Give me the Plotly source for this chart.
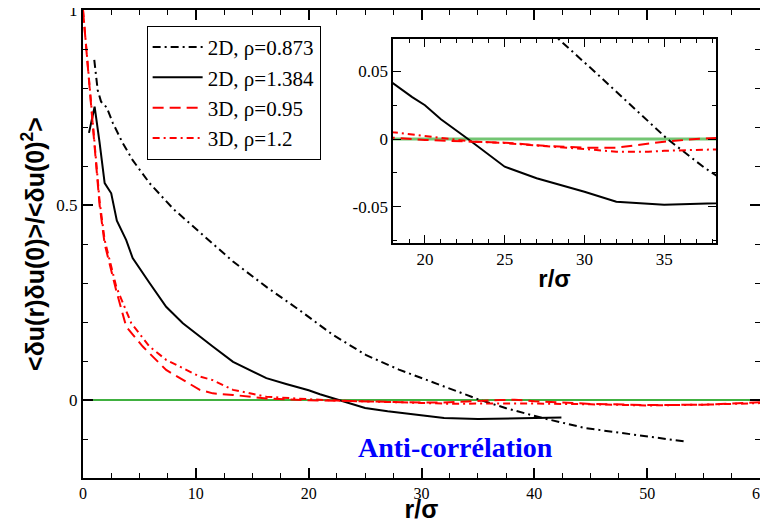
import plotly.graph_objects as go

# ---- data ----
x_2d_0873 = [1.0, 1.3, 1.6, 2.1, 2.65, 3.5, 4.4, 5.9, 8.0, 10.35, 13.3, 16.25, 19.2, 22.15, 25.1, 28.0, 31.0, 33.0, 35.2, 37.5, 40.7, 44.5, 47.7, 51.0, 53.5]
y_2d_0873 = [0.872, 0.795, 0.765, 0.75, 0.71, 0.66, 0.615, 0.556, 0.49, 0.43, 0.355, 0.29, 0.23, 0.167, 0.115, 0.078, 0.046, 0.024, 0.0, -0.021, -0.046, -0.072, -0.085, -0.098, -0.107]

x_2d_1384 = [0.53, 1.03, 1.47, 1.92, 2.5, 2.8, 3.0, 3.83, 4.4, 5.9, 7.37, 8.85, 10.35, 11.5, 13.3, 16.25, 18.0, 19.2, 20.0, 21.0, 22.7, 25.0, 27.0, 30.0, 32.0, 35.0, 38.25, 40.0, 42.4]
y_2d_1384 = [0.685, 0.752, 0.66, 0.556, 0.53, 0.487, 0.46, 0.41, 0.364, 0.3, 0.239, 0.197, 0.162, 0.137, 0.098, 0.056, 0.041, 0.031, 0.025, 0.0146, 0.0, -0.0205, -0.029, -0.039, -0.0464, -0.0487, -0.0476, -0.046, -0.045]

x_3d_095 = [0, 0.59, 0.88, 1.2, 1.47, 1.92, 2.36, 2.95, 3.83, 5.3, 7.37, 10.35, 11.5, 13.3, 16.25, 18, 20, 23, 25, 27.5, 30, 32, 34, 35, 37, 38.25, 40, 45, 50, 55, 60]
y_3d_095 = [1.0, 0.795, 0.70, 0.59, 0.50, 0.40, 0.35, 0.28, 0.188, 0.137, 0.077, 0.026, 0.017, 0.013, 0.004, 0.001, -0.0007, -0.002, -0.0027, -0.005, -0.0064, -0.0064, -0.0037, -0.002, 0.0, 0.0008, -0.003, -0.010, -0.013, -0.012, -0.006]

x_3d_12 = [0, 0.59, 0.88, 1.2, 1.47, 1.92, 2.36, 2.95, 4.28, 5.9, 7.37, 10.35, 11.5, 13.3, 16.25, 18, 20, 23, 25, 27.5, 30, 32, 34, 35, 37, 38.25, 40, 45, 50, 55, 60]
y_3d_12 = [1.0, 0.80, 0.71, 0.60, 0.51, 0.41, 0.36, 0.29, 0.197, 0.137, 0.103, 0.06, 0.051, 0.026, 0.0085, 0.005, 0.002, -0.002, -0.003, -0.005, -0.0074, -0.0094, -0.0094, -0.0087, -0.0084, -0.0077, -0.009, -0.011, -0.014, -0.012, -0.008]

zero_x = [0, 60]
zero_y = [0, 0]

names = ["2D, ρ=0.873", "2D, ρ=1.384", "3D, ρ=0.95", "3D, ρ=1.2"]

main_xticks = [0, 10, 20, 30, 40, 50, 60]
main_yticks = [0, 0.5, 1]
main_ytext = ["0", "0.5", "1"]
inset_xticks = [20, 25, 30, 35]
inset_yticks = [-0.05, 0, 0.05]
inset_ytext = ["-0.05", "0", "0.05"]

series = [
    (x_2d_0873, y_2d_0873, "black", 2.0, "8px,4px,2px,4px"),
    (x_2d_1384, y_2d_1384, "black", 2.0, "solid"),
    (x_3d_095, y_3d_095, "red", 2.0, "11px,6px"),
    (x_3d_12, y_3d_12, "red", 2.0, "7px,4px,2px,4px"),
]

fig = go.Figure()

fig.add_trace(go.Scatter(x=zero_x, y=zero_y, mode="lines", line=dict(color="rgb(0,150,0)", width=1.4),
                         showlegend=False, hoverinfo="skip", xaxis="x", yaxis="y"))
fig.add_trace(go.Scatter(x=zero_x, y=zero_y, mode="lines", line=dict(color="rgba(0,150,0,0.55)", width=3),
                         showlegend=False, hoverinfo="skip", xaxis="x2", yaxis="y2"))

for (xs, ys, c, w, d), n in zip(series, names):
    fig.add_trace(go.Scatter(x=xs, y=ys, mode="lines", name=n,
                             line=dict(color=c, width=w, dash=d), xaxis="x", yaxis="y"))
for (xs, ys, c, w, d), n in zip(series, names):
    fig.add_trace(go.Scatter(x=xs, y=ys, mode="lines", name=n, showlegend=False,
                             line=dict(color=c, width=w, dash=d), xaxis="x2", yaxis="y2"))

serif = "Liberation Serif"
sans = "Liberation Sans"

axcommon = dict(showgrid=False, zeroline=False, showline=True, linecolor="black",
                mirror="allticks", ticks="inside", tickcolor="black", ticklabeloverflow="allow")

fig.update_layout(
    width=752, height=515,
    margin=dict(l=75, r=0, t=2, b=45, autoexpand=False),
    paper_bgcolor="white", plot_bgcolor="white",
    xaxis=dict(**axcommon, domain=[0, 1], range=[0, 60], tickvals=main_xticks,
               linewidth=2, ticklen=10, tickwidth=1.5,
               minor=dict(dtick=2.5, tick0=0, ticklen=5, ticks="inside", tickcolor="black", tickwidth=1.2),
               tickfont=dict(family=serif, size=16, color="black"),
               title=dict(text="<b>r/σ</b>", font=dict(family=sans, size=25, color="black"), standoff=5)),
    yaxis=dict(**axcommon, domain=[0, 1], range=[-0.2, 1], tickvals=main_yticks, ticktext=main_ytext,
               linewidth=2, ticklen=10, tickwidth=1.5,
               minor=dict(dtick=0.1, tick0=0, ticklen=5, ticks="inside", tickcolor="black", tickwidth=1.2),
               tickfont=dict(family=serif, size=17, color="black"),
               title=dict(text="<b><δu(r)δu(0)>/<δu(0)<sup>2</sup>></b>",
                          font=dict(family=sans, size=25, color="black"), standoff=5)),
    xaxis2=dict(**axcommon, domain=[0.458, 0.935], anchor="y2", range=[18, 38.25], tickvals=inset_xticks,
                linewidth=1.5, ticklen=8, tickwidth=1.2,
                minor=dict(dtick=1, tick0=0, ticklen=4, ticks="inside", tickcolor="black", tickwidth=1),
                tickfont=dict(family=serif, size=17, color="black"),
                title=dict(text="<b>r/σ</b>", font=dict(family=sans, size=24, color="black"), standoff=2)),
    yaxis2=dict(**axcommon, domain=[0.502, 0.938], anchor="x2", range=[-0.077, 0.074],
                tickvals=inset_yticks, ticktext=inset_ytext,
                linewidth=1.5, ticklen=8, tickwidth=1.2,
                minor=dict(dtick=0.025, tick0=0, ticklen=4, ticks="inside", tickcolor="black", tickwidth=1),
                tickfont=dict(family=serif, size=17, color="black")),
    legend=dict(x=0.094, y=0.966, xanchor="left", yanchor="top",
                bgcolor="white", bordercolor="black", borderwidth=1,
                font=dict(family=serif, size=21, color="black"), itemwidth=50,
                tracegroupgap=0),
    annotations=[dict(x=33.0, y=-0.123, xref="x", yref="y", text="<b>Anti-corrélation</b>",
                      showarrow=False, font=dict(family=serif, size=28, color="blue"))],
)

fig.write_html("out.html")
